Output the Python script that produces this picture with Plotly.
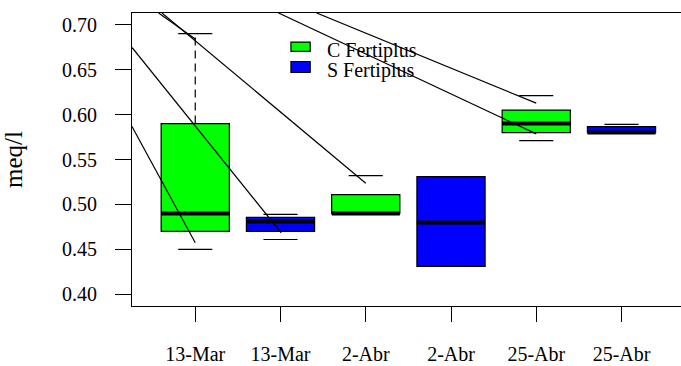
import plotly.graph_objects as go

# ---------------- data ----------------
positions = [1, 2, 3, 4, 5, 6]
tick_labels = ["13-Mar", "13-Mar", "2-Abr", "2-Abr", "25-Abr", "25-Abr"]
series_names = ["C Fertiplus", "S Fertiplus"]
y_ticks = [0.40, 0.45, 0.50, 0.55, 0.60, 0.65, 0.70]

# C Fertiplus (green) at positions 1, 3, 5
c_pos = [1, 3, 5]
c_lo = [0.45, 0.49, 0.571]
c_q1 = [0.47, 0.49, 0.58]
c_med = [0.49, 0.49, 0.59]
c_q3 = [0.59, 0.511, 0.605]
c_hi = [0.69, 0.532, 0.621]

# S Fertiplus (blue) at positions 2, 4, 6
s_pos = [2, 4, 6]
s_lo = [0.461, 0.431, 0.58]
s_q1 = [0.47, 0.431, 0.58]
s_med = [0.481, 0.48, 0.58]
s_q3 = [0.4855, 0.531, 0.5866]
s_hi = [0.489, 0.531, 0.589]

# diagonal pointer lines (start -> end, data units)
line_x0 = [0.258, 0.258, 0.570, 0.610, 1.977, 2.424]
line_y0 = [0.5866, 0.6747, 0.713, 0.713, 0.713, 0.713]
line_x1 = [1.0, 2.008, 1.0, 3.0, 5.0, 5.0]
line_y1 = [0.4573, 0.4685, 0.684, 0.5235, 0.5785, 0.6127]

# ---------------- style ----------------
GREEN = "#00FF00"
BLUE = "#0000FF"
FONT = "Liberation Serif, Times New Roman, serif"
BOX_W = 0.8
LW = 1.2

fig = go.Figure()

for pos, lo, q1, med, q3, hi, col, name in [
    (c_pos, c_lo, c_q1, c_med, c_q3, c_hi, GREEN, series_names[0]),
    (s_pos, s_lo, s_q1, s_med, s_q3, s_hi, BLUE, series_names[1]),
]:
    fig.add_trace(go.Box(
        x=pos, q1=q1, median=med, q3=q3, lowerfence=q1, upperfence=q3,
        width=BOX_W, whiskerwidth=0, fillcolor=col,
        line=dict(color="black", width=LW), boxpoints=False,
        name=name, showlegend=False, hoverinfo="skip",
    ))
    # whiskers (dashed) where visible
    wx, wy = [], []
    for p, l, a, b, h in zip(pos, lo, q1, q3, hi):
        if h - b > 0.05:
            wx += [p, p, None]
            wy += [b, h, None]
        if a - l > 0.05:
            wx += [p, p, None]
            wy += [a, l, None]
    if wx:
        fig.add_trace(go.Scatter(x=wx, y=wy, mode="lines", showlegend=False,
                                 line=dict(color="black", width=LW, dash="8px,5px"),
                                 hoverinfo="skip"))
    # staples
    sx, sy = [], []
    for p, l, h in zip(pos, lo, hi):
        sx += [p - BOX_W / 4, p + BOX_W / 4, None, p - BOX_W / 4, p + BOX_W / 4, None]
        sy += [l, l, None, h, h, None]
    fig.add_trace(go.Scatter(x=sx, y=sy, mode="lines", showlegend=False,
                             line=dict(color="black", width=LW), hoverinfo="skip"))
    # thick medians
    mx, my = [], []
    for p, m in zip(pos, med):
        mx += [p - BOX_W / 2, p + BOX_W / 2, None]
        my += [m, m, None]
    fig.add_trace(go.Scatter(x=mx, y=my, mode="lines", showlegend=False,
                             line=dict(color="black", width=4), hoverinfo="skip"))

# pointer lines
lx, ly = [], []
for x0, y0, x1, y1 in zip(line_x0, line_y0, line_x1, line_y1):
    lx += [x0, x1, None]
    ly += [y0, y1, None]
fig.add_trace(go.Scatter(x=lx, y=ly, mode="lines", showlegend=False,
                         line=dict(color="black", width=LW), hoverinfo="skip"))

# custom legend (R style, no border)
legend_rects = [(0.8687, 0.9008, GREEN), (0.7969, 0.8345, BLUE)]
legend_text_y = [0.871, 0.8027]
for (y0, y1, col), ty, name in zip(legend_rects, legend_text_y, series_names):
    fig.add_shape(type="rect", xref="paper", yref="paper",
                  x0=0.2895, x1=0.3246, y0=y0, y1=y1,
                  fillcolor=col, line=dict(color="black", width=LW))
    fig.add_annotation(xref="paper", yref="paper", x=0.3519, y=ty,
                       xanchor="left", yanchor="middle", text=name, showarrow=False,
                       font=dict(family=FONT, size=20, color="black"))

fig.update_layout(
    width=681, height=366,
    margin=dict(l=132, r=0, t=13, b=60, autoexpand=False),
    paper_bgcolor="white", plot_bgcolor="white",
    font=dict(family=FONT, size=20, color="black"),
    showlegend=False,
    boxmode="overlay",
)
fig.update_xaxes(
    range=[0.258, 6.698], tickmode="array", tickvals=positions, ticktext=tick_labels,
    ticks="outside", ticklen=15, tickwidth=LW, tickcolor="black",
    showline=True, linecolor="black", linewidth=LW, mirror=True,
    showgrid=False, zeroline=False, ticklabelstandoff=15,
    tickfont=dict(family=FONT, size=20, color="black"),
)
fig.update_yaxes(
    range=[0.387, 0.713], tickmode="array", tickvals=y_ticks,
    ticktext=[f"{v:.2f}" for v in y_ticks],
    ticks="outside", ticklen=16, tickwidth=LW, tickcolor="black",
    showline=True, linecolor="black", linewidth=LW, mirror=False,
    showgrid=False, zeroline=False, ticklabelstandoff=14,
    tickfont=dict(family=FONT, size=20, color="black"),
    title=dict(text="meq/l", font=dict(family=FONT, size=25, color="black"), standoff=33),
)

fig.write_html("out.html")
